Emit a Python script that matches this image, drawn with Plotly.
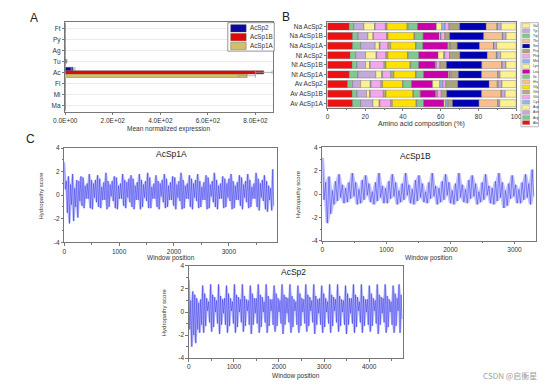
import numpy as np
import plotly.graph_objects as go

W, H = 557, 389
def fx(p): return p / W
def fy(p): return 1 - p / H

FONT = "Liberation Sans, Arial, sans-serif"
TXT = "#333333"
AXC = "#777777"

# ---------------- Panel A data ----------------
tissues = ["Ft", "Py", "Ag", "Tu", "Ac", "Fl", "Mi", "Ma"]
expr_AcSp2  = [0.4, 0.3, 0.3, 0.6, 33, 0.3, 0.3, 0.5]
expr_AcSp1B = [0.5, 0.3, 0.4, 6.0, 835, 0.3, 0.3, 0.6]
expr_AcSp1A = [0.3, 0.2, 0.3, 0.5, 765, 0.2, 0.3, 0.4]
err_AcSp2   = [0, 0, 0, 0, 8, 0, 0, 0]
err_AcSp1B  = [0, 0, 0, 1, 35, 0, 0, 0]
err_AcSp1A  = [0, 0, 0, 0, 35, 0, 0, 0]
expr_tickvals = [0, 200, 400, 600, 800]
expr_ticktext = ["0.0E+00", "2.0E+02", "4.0E+02", "6.0E+02", "8.0E+02"]
spidroins = ["AcSp2", "AcSp1B", "AcSp1A"]

# ---------------- Panel B data ----------------
samples = ["Na AcSp2", "Na AcSp1B", "Na AcSp1A", "Nt AcSp2", "Nt AcSp1B",
           "Nt AcSp1A", "Av AcSp2", "Av AcSp1B", "Av AcSp1A"]
amino_acids = ["Ala", "Arg", "Asn", "Asp", "Cys", "Glu", "Gln", "Gly", "His", "Ile",
               "Leu", "Lys", "Met", "Phe", "Pro", "Ser", "Thr", "Trp", "Tyr", "Val"]
comp_Na_AcSp2  = [11.5, 2.4, 5.4, 5.7, 0.3, 5.4, 0.9, 10.6, 0.5, 5.1, 9.9, 2.9, 1.7, 2.1, 5.7, 14.0, 5.7, 0.3, 2.0, 7.9]
comp_Na_AcSp1B = [13.3, 2.9, 5.2, 2.7, 0.3, 6.9, 0.8, 13.8, 0.3, 4.5, 8.5, 0.7, 0.3, 2.0, 2.6, 18.0, 9.9, 0.2, 1.8, 5.3]
comp_Na_AcSp1A = [13.3, 4.3, 7.7, 2.2, 0.4, 4.2, 1.4, 13.2, 0.3, 3.6, 13.2, 0.6, 0.4, 0.5, 3.5, 11.8, 7.4, 0.2, 1.5, 10.3]
comp_Nt_AcSp2  = [12.0, 3.0, 5.2, 5.6, 0.3, 4.9, 1.0, 10.4, 0.4, 5.6, 10.2, 3.0, 0.6, 2.5, 5.5, 14.5, 4.8, 0.3, 2.0, 8.2]
comp_Nt_AcSp1B = [13.0, 2.6, 4.6, 2.2, 0.3, 7.3, 1.0, 12.8, 0.3, 4.3, 8.6, 0.4, 0.3, 1.9, 3.5, 18.7, 10.6, 0.2, 2.0, 5.4]
comp_Nt_AcSp1A = [11.6, 4.6, 9.4, 3.1, 0.5, 4.3, 1.7, 11.5, 0.3, 4.0, 13.0, 0.5, 0.4, 0.6, 3.9, 12.3, 8.6, 0.2, 1.0, 8.5]
comp_Av_AcSp2  = [10.6, 2.7, 4.3, 5.1, 0.4, 5.3, 0.8, 10.6, 0.3, 4.5, 11.1, 3.8, 1.7, 1.5, 6.4, 16.6, 4.3, 0.5, 2.0, 7.5]
comp_Av_AcSp1B = [13.0, 2.6, 5.1, 1.7, 0.3, 6.9, 1.4, 14.3, 0.3, 3.6, 8.2, 0.5, 0.4, 2.0, 2.9, 18.5, 10.3, 0.2, 2.0, 5.8]
comp_Av_AcSp1A = [13.3, 4.3, 6.5, 3.3, 0.4, 5.7, 0.9, 12.6, 0.3, 3.7, 10.7, 0.8, 1.0, 0.5, 2.3, 14.0, 10.0, 0.2, 0.8, 8.7]
comp_rows = [comp_Na_AcSp2, comp_Na_AcSp1B, comp_Na_AcSp1A, comp_Nt_AcSp2, comp_Nt_AcSp1B,
             comp_Nt_AcSp1A, comp_Av_AcSp2, comp_Av_AcSp1B, comp_Av_AcSp1A]
comp_ticks = [0, 20, 40, 60, 80, 100]

# ---------------- Panel C data (hydropathy, window positions) ----------------
step_AcSp1A = 19
hyd_AcSp1A = [
    2.8, 0.5, 1.2, -1.5, 1.6, -2.4, 0.9, -0.8, 1.8, -2.2, 0.6, -1.0, 1.3, -1.9,
    1.2, -0.5, 1.6, -0.9, 1.5, -1.1, 0.8, -0.3,
    1.0, -0.3, 1.8, -1.1, 1.3, -1.2, 1.0, -0.2,
    1.3, -0.6, 1.7, -1.0, 1.4, -1.1, 0.7, -0.4,
    1.1, -0.4, 1.9, -1.2, 1.2, -1.0, 0.9, -0.1,
    1.2, -0.5, 1.6, -1.1, 1.5, -1.2, 0.8, -0.3,
    1.0, -0.3, 1.8, -0.9, 1.3, -1.1, 1.1, -0.2,
    1.4, -0.6, 1.7, -1.0, 1.4, -1.2, 0.8, -0.4,
    1.1, -0.4, 1.8, -1.2, 1.3, -1.0, 0.9, -0.2,
    1.2, -0.5, 1.9, -1.1, 1.5, -1.1, 0.7, -0.3,
    1.0, -0.3, 1.7, -1.0, 1.2, -1.2, 1.0, -0.1,
    1.3, -0.6, 1.8, -1.1, 1.4, -1.0, 0.8, -0.4,
    1.1, -0.4, 1.6, -0.9, 1.5, -1.2, 0.9, -0.2,
    1.2, -0.5, 1.9, -1.2, 1.3, -1.1, 0.8, -0.3,
    1.0, -0.3, 1.7, -1.0, 1.4, -1.2, 1.0, -0.2,
    1.3, -0.5, 1.8, -1.1, 1.2, -1.0, 0.7, -0.4,
    1.1, -0.4, 1.7, -1.2, 1.5, -1.1, 0.9, -0.1,
    1.2, -0.6, 1.9, -1.0, 1.3, -1.2, 0.8, -0.3,
    1.0, -0.3, 1.6, -1.1, 1.4, -1.0, 1.0, -0.2,
    1.4, -0.5, 1.8, -1.2, 1.2, -1.1, 0.8, -0.4,
    1.1, -0.4, 1.7, -0.9, 1.5, -1.2, 0.9, -0.2,
    1.2, -0.6, 1.8, -1.1, 1.3, -1.0, 0.7, -0.3,
    1.0, -0.3, 1.9, -1.0, 1.4, -1.3, 1.0, -0.2,
    1.3, -0.5, 1.7, -1.2, 1.2, -1.4, 0.8, -0.4,
    0.6, -1.3, 2.2, -0.9,
]

step_AcSp1B = 26
hyd_AcSp1B = [
    3.1, -0.5, 1.0, -2.5, 1.5, -1.7,
    0.3, -0.9, 1.1, -0.6, 1.7, -0.3, 0.8, -0.8,
    0.5, -0.7, 1.0, -0.4, 1.8, -0.2, 1.0, -0.9,
    0.4, -0.8, 1.2, -0.5, 1.6, -0.1, 0.9, -0.7,
    0.2, -0.9, 1.0, -0.6, 1.8, -0.3, 0.7, -0.8,
    0.5, -0.8, 1.1, -0.4, 1.7, -0.2, 1.0, -0.9,
    0.3, -0.7, 0.9, -0.5, 1.8, -0.1, 0.8, -0.8,
    0.4, -0.9, 1.2, -0.6, 1.6, -0.3, 0.9, -0.7,
    0.2, -0.8, 1.0, -0.4, 1.8, -0.2, 0.7, -0.9,
    0.5, -0.7, 1.1, -0.5, 1.7, -0.1, 1.0, -0.8,
    0.3, -0.9, 0.9, -0.6, 1.8, -0.3, 0.8, -0.7,
    0.4, -0.8, 1.2, -0.4, 1.6, -0.2, 0.9, -0.9,
    0.2, -0.7, 1.0, -0.5, 1.7, -0.1, 0.7, -0.8,
    0.5, -0.9, 1.1, -0.6, 1.8, -0.3, 1.0, -1.2,
    0.3, -1.0, 0.9, -0.4, 1.6, -0.2, 0.8, -0.8,
    0.4, -0.8, 1.0, -0.5, 1.7, -0.3, 0.9, -0.9,
    2.1, -0.2,
]

step_AcSp2 = 22
hyd_AcSp2 = [
    2.8, -1.5, 1.0, -3.0, 1.8, -2.0, 1.5, -2.7, 1.2, -1.5, 0.8, -1.8,
    1.1, -1.1, 2.3, -1.8, 1.6, -1.2, 1.2, 0.1,
    0.9, -0.9, 2.4, -1.7, 1.5, -1.3, 1.3, 0.0,
    1.0, -1.0, 2.4, -1.9, 1.4, -1.1, 1.1, -0.1,
    1.2, -1.1, 2.3, -1.8, 1.6, -1.2, 1.2, 0.1,
    0.9, -1.0, 2.4, -1.8, 1.5, -1.3, 1.3, 0.0,
    1.1, -0.9, 2.4, -1.7, 1.4, -1.2, 1.1, 0.1,
    1.0, -1.1, 2.3, -1.9, 1.6, -1.1, 1.2, -0.1,
    1.2, -1.0, 2.4, -1.8, 1.5, -1.3, 1.3, 0.0,
    0.9, -0.9, 2.4, -1.8, 1.4, -1.2, 1.1, 0.1,
    1.1, -1.1, 2.3, -1.7, 1.6, -1.2, 1.2, 0.0,
    1.0, -1.0, 2.4, -1.9, 1.5, -1.1, 1.3, -0.1,
    1.2, -0.9, 2.4, -1.8, 1.4, -1.3, 1.1, 0.1,
    0.9, -1.1, 2.3, -1.8, 1.6, -1.2, 1.2, 0.0,
    1.1, -1.0, 2.4, -1.7, 1.5, -1.2, 1.3, 0.1,
    1.0, -0.9, 2.4, -1.9, 1.4, -1.1, 1.1, -0.1,
    1.2, -1.1, 2.3, -1.8, 1.6, -1.3, 1.2, 0.0,
    0.9, -1.0, 2.4, -1.8, 1.5, -1.2, 1.3, 0.1,
    1.1, -0.9, 2.4, -1.7, 1.4, -1.2, 1.1, 0.0,
    1.0, -1.1, 2.3, -1.9, 1.6, -1.1, 1.2, -0.1,
    1.2, -1.0, 2.4, -1.8, 1.5, -1.3, 1.3, 0.1,
    0.9, -0.9, 2.4, -1.8, 1.4, -1.2, 1.1, 0.0,
    1.1, -1.1, 2.3, -1.7, 1.6, -1.2, 1.2, 0.1,
    1.0, -1.0, 2.4, -1.9, 1.5, -1.1, 1.3, -0.1,
    1.2, -0.9, 2.4, -1.8, 1.4, -1.3, 1.1, 0.0,
    0.9, -1.1, 2.3, -1.8, 1.6, -1.2, 1.2, 0.1,
    2.4, -1.8, 1.5, -0.6,
]
hyd_ticks_y = [-4, -2, 0, 2, 4]
hyd_ticktext_y = ["-4", "-2", "0", "2", "4"]

# ---------------- styles ----------------
spidroin_colors = {"AcSp2": "#0a0a9e", "AcSp1B": "#dd0a0a", "AcSp1A": "#d2c068"}
aa_colors = ["#ee1111", "#7fc98f", "#c3a9dc", "#fdf28f", "#8fb6ee", "#f6a6ee", "#b1ab86",
             "#ffe100", "#f8c08e", "#7fc98f", "#cc00aa", "#fdf28f", "#8fb6ee", "#f6a6ee",
             "#a9a47c", "#0000b4", "#f8c08e", "#7fc98f", "#c3a9dc", "#fdf28f"]
band_fill = "rgba(120,120,255,0.45)"
line_blue = "rgba(30,30,225,0.6)"

fig = go.Figure()

# ---- Panel A bars ----
exprs = {"AcSp2": (expr_AcSp2, err_AcSp2), "AcSp1B": (expr_AcSp1B, err_AcSp1B),
         "AcSp1A": (expr_AcSp1A, err_AcSp1A)}
for name in spidroins:
    vals, errs = exprs[name]
    fig.add_trace(go.Bar(
        x=vals, y=tissues, orientation="h", name=name, offsetgroup=name,
        marker=dict(color=spidroin_colors[name], line=dict(color="#555555", width=0.4)),
        error_x=dict(type="data", array=errs, color="#999999", thickness=0.7, width=2),
        xaxis="x", yaxis="y", showlegend=False))

# ---- Panel B stacked bars ----
comp = np.array(comp_rows)
cum = np.cumsum(comp, axis=1)
for j, aa in enumerate(amino_acids):
    fig.add_trace(go.Bar(
        x=comp[:, j], base=cum[:, j] - comp[:, j], y=samples, orientation="h",
        name=aa, offsetgroup="comp", width=0.74, offset=-0.37,
        marker=dict(color=aa_colors[j], line=dict(color="#666666", width=0.4)),
        xaxis="x2", yaxis="y2", showlegend=False))

# ---- Panel C: hydropathy profiles (band between local extremes + trace) ----
for ys, step, xa, ya in [(hyd_AcSp1A, step_AcSp1A, "x3", "y3"),
                         (hyd_AcSp1B, step_AcSp1B, "x4", "y4"),
                         (hyd_AcSp2, step_AcSp2, "x5", "y5")]:
    ys = np.array(ys, dtype=float)
    xs = np.arange(len(ys)) * step
    padded = np.pad(ys, 1, mode="edge")
    upper = np.max(np.stack([padded[:-2], padded[1:-1], padded[2:]]), axis=0)
    lower = np.min(np.stack([padded[:-2], padded[1:-1], padded[2:]]), axis=0)
    fig.add_trace(go.Scatter(x=xs, y=upper, mode="lines", line=dict(width=0),
                             xaxis=xa, yaxis=ya, showlegend=False, hoverinfo="skip"))
    fig.add_trace(go.Scatter(x=xs, y=lower, mode="lines", line=dict(width=0),
                             fill="tonexty", fillcolor=band_fill,
                             xaxis=xa, yaxis=ya, showlegend=False, hoverinfo="skip"))
    fig.add_trace(go.Scatter(x=xs, y=ys, mode="lines",
                             line=dict(color=line_blue, width=0.7),
                             xaxis=xa, yaxis=ya, showlegend=False))

tickfont = dict(family=FONT, size=6.5, color=TXT)
common_axis = dict(showline=True, linecolor=AXC, linewidth=0.8, mirror=True,
                   ticks="outside", ticklen=2.5, tickwidth=0.8, tickcolor=AXC,
                   tickfont=tickfont, zeroline=False)

layout = dict(
    width=W, height=H, margin=dict(l=0, r=0, t=0, b=0),
    paper_bgcolor="white", plot_bgcolor="white",
    barmode="group", bargap=0.08, bargroupgap=0.0,
    showlegend=False,
    font=dict(family=FONT, color=TXT),
    # Panel A
    xaxis=dict(domain=[fx(55), fx(270)], anchor="y", range=[0, 875],
               tickvals=expr_tickvals, ticktext=expr_ticktext, showgrid=False,
               **common_axis),
    yaxis=dict(domain=[fy(110), fy(18)], anchor="x", type="category",
               categoryorder="array", categoryarray=tissues, range=[7.6, -0.6],
               showgrid=True, gridcolor="#ebebeb", gridwidth=0.8, **common_axis),
    # Panel B
    xaxis2=dict(domain=[fx(326), fx(521)], anchor="y2", range=[0, 100],
                tickvals=comp_ticks, showgrid=False,
                minor=dict(ticks="outside", ticklen=1.5, dtick=10, tick0=0, tickcolor=AXC),
                **common_axis),
    yaxis2=dict(domain=[fy(106), fy(18)], anchor="x2", type="category",
                categoryorder="array", categoryarray=samples, range=[8.5, -0.5],
                showgrid=False, **common_axis),
)

c_axes = [("xaxis3", "yaxis3", "x3", "y3", [54, 274], [146.7, 242.7], 3880),
          ("xaxis4", "yaxis4", "x4", "y4", [320.7, 541], [146, 241], 3328),
          ("xaxis5", "yaxis5", "x5", "y5", [182.7, 404], [266.7, 360.7], 4750)]
for xk, yk, xn, yn, xd, yd, xmax in c_axes:
    layout[xk] = dict(domain=[fx(xd[0]), fx(xd[1])], anchor=yn, range=[0, xmax],
                      dtick=1000, tick0=0, showgrid=False,
                      minor=dict(ticks="outside", ticklen=1.5, dtick=500, tick0=0, tickcolor=AXC),
                      **common_axis)
    layout[yk] = dict(domain=[fy(yd[1]), fy(yd[0])], anchor=xn, range=[-4, 4],
                      tickvals=hyd_ticks_y, ticktext=hyd_ticktext_y, showgrid=False,
                      minor=dict(ticks="outside", ticklen=1.5, dtick=1, tick0=0, tickcolor=AXC),
                      **common_axis)

fig.update_layout(**layout)

ann = []
def text(x, y, s, size, anchor="center", angle=0, color=TXT, family=FONT):
    ann.append(dict(x=fx(x), y=fy(y), xref="paper", yref="paper", text=s, showarrow=False,
                    xanchor=anchor, yanchor="middle", textangle=angle,
                    font=dict(family=family, size=size, color=color)))

# panel letters
text(23, 14, "A", 12, color="#222222")
text(283, 13, "B", 12, color="#222222")
text(19, 137, "C", 12, color="#222222")
# axis titles
text(162, 127, "Mean normalized expression", 6.5)
text(423, 122, "Amino acid composition (%)", 7)
for (cx, cy, title, ytx, yty, xtx, xty) in [
        (165, 153, "AcSp1A", 30, 195, 164, 259),
        (417, 155, "AcSp1B", 295, 193, 431, 259),
        (291, 273, "AcSp2", 157, 314, 293, 379)]:
    text(cx, cy, title, 8.5, color="#222222")
    text(ytx, yty, "Hydropathy score", 6, angle=-90)
    text(xtx, xty, "Window position", 6.5)
text(515, 378, "CSDN @启衡星", 8, color="#a0a0a0",
     family="Noto Sans CJK SC, Liberation Sans, sans-serif")

shapes = []
def rect(x0, y0, x1, y1, fill, line="#555555", lw=0.6):
    shapes.append(dict(type="rect", xref="paper", yref="paper",
                       x0=fx(x0), x1=fx(x1), y0=fy(y1), y1=fy(y0),
                       fillcolor=fill, line=dict(color=line, width=lw)))

# legend A
rect(223, 19, 271, 48, "white", line="#666666", lw=0.7)
for i, name in enumerate(spidroins):
    y0 = 21 + i * 9
    rect(226, y0, 242, y0 + 7.5, spidroin_colors[name], lw=0.4)
    text(244, y0 + 3.9, name, 6.3, anchor="left")

# legend B
rect(526, 19, 544, 125, "white", line="#888888", lw=0.6)
for i, aa in enumerate(reversed(amino_acids)):
    j = len(amino_acids) - 1 - i
    yc = 22 + i * 5.2
    rect(527.5, yc - 2, 535, yc + 2, aa_colors[j], line="#777777", lw=0.3)
    text(536, yc, aa, 3.4, anchor="left")

fig.update_layout(annotations=ann, shapes=shapes)

fig.write_html("out.html", config={"displayModeBar": False},
               post_script="document.body.style.margin='0';document.body.style.overflow='hidden';")
